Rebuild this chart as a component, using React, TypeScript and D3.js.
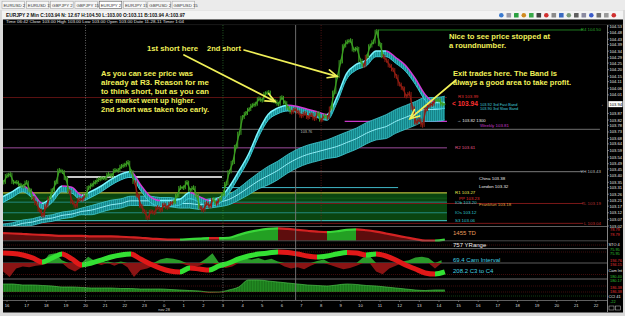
import React from "react";
import * as d3 from "d3";

const F = "'Liberation Sans', Arial, Helvetica, sans-serif";

// ---------------- data ----------------
const tabNames = ["EURUSD 2", "EURUSD 15", "GBPJPY 2", "GBPJPY 15", "EURJPY 2", "EURJPY 15", "GBPUSD 2", "GBPUSD 15"];
const activeTab = "EURJPY 2";
const titleText = "EURJPY 2 Min  C:103.94  N: 12.67  H:104.50  L:103.00  O:103.11  B:103.94  A:103.97";
const infoText = "Time 06:42   Close 103.00   High 103.00   Low 103.00   Open 103.00   Date 11-28-11   Timer 1:04";

const hourLabels = ["16", "17", "18", "19", "20", "21", "22", "23", "0", "1", "2", "3", "4", "5", "6", "7", "8", "9", "10", "11", "12", "13", "14", "15", "16", "17", "18", "19", "20", "21", "22"];
const dateLabel = "nov 28";
const dateLabelHour = 8;
const priceTickLabels = ["104.53", "104.48", "104.43", "104.39", "104.34", "104.29", "104.25", "104.20", "104.15", "104.11", "104.06", "104.01", "103.96", "103.92", "103.87", "103.82", "103.78", "103.73", "103.68", "103.64", "103.59", "103.54", "103.49", "103.45", "103.40", "103.35", "103.31", "103.26", "103.21", "103.17", "103.12", "103.07", "103.02"];
const lastPrice = 103.94;
const cursorHour = 14.7;
const sessionHours = [4, 11];
const londonHour = 16;
const nowHour = 22.41;

// closes every 10 minutes, starting 15:50
const closesStart = -1 / 6;
const closesStep = 1 / 6;
const closes = [
  103.35, 103.40, 103.41, 103.35, 103.35, 103.33, 103.32, 103.35, 103.29, 103.23,
  103.19, 103.14, 103.10, 103.17, 103.23, 103.29, 103.35, 103.44, 103.43, 103.38,
  103.28, 103.20, 103.17, 103.22, 103.22, 103.25, 103.31, 103.33, 103.35, 103.37,
  103.38, 103.38, 103.41, 103.40, 103.44, 103.44, 103.47, 103.48, 103.50, 103.43,
  103.35, 103.25, 103.17, 103.13, 103.08, 103.13, 103.12, 103.16, 103.14, 103.18,
  103.16, 103.19, 103.20, 103.25, 103.31, 103.31, 103.35, 103.29, 103.31, 103.25,
  103.16, 103.14, 103.19, 103.17, 103.22, 103.19, 103.22, 103.26, 103.34, 103.43,
  103.50, 103.62, 103.72, 103.84, 103.87, 103.90, 103.93, 103.94, 103.98, 103.97,
  104.02, 104.03, 103.97, 103.96, 103.94, 103.99, 103.95, 103.91, 103.88, 103.90,
  103.88, 103.85, 103.87, 103.84, 103.86, 103.83, 103.87, 103.82, 103.85, 103.84,
  103.91, 104.03, 104.15, 104.26, 104.38, 104.41, 104.42, 104.35, 104.36, 104.27,
  104.23, 104.30, 104.38, 104.41, 104.49, 104.39, 104.30, 104.27, 104.23, 104.20,
  104.15, 104.09, 104.06, 104.00, 104.02, 103.91, 103.80, 103.82, 103.78, 103.90,
  103.93, 103.94, 103.97, 103.97, 103.94, 103.94,
];

// bands / indicators every 30 minutes
const bandStart = -0.2;
const bandStep = 0.5;
const fastBand = [103.22, 103.26, 103.30, 103.25, 103.17, 103.22, 103.30, 103.29, 103.23, 103.26, 103.30, 103.35, 103.39, 103.41, 103.31, 103.22, 103.19, 103.19, 103.20, 103.25, 103.22, 103.19, 103.21, 103.29, 103.41, 103.54, 103.71, 103.84, 103.89, 103.91, 103.90, 103.88, 103.86, 103.84, 103.97, 104.15, 104.22, 104.25, 104.32, 104.32, 104.27, 104.21, 104.11, 103.99, 103.93, 103.93];
const slowBandMid = [103.01, 103.02, 103.04, 103.05, 103.07, 103.08, 103.10, 103.11, 103.13, 103.14, 103.16, 103.18, 103.19, 103.21, 103.21, 103.21, 103.20, 103.20, 103.19, 103.19, 103.18, 103.19, 103.20, 103.22, 103.26, 103.31, 103.36, 103.40, 103.44, 103.49, 103.53, 103.56, 103.58, 103.60, 103.62, 103.65, 103.68, 103.72, 103.75, 103.77, 103.81, 103.84, 103.87, 103.90, 103.90, 103.91];
const slowBandHalf = [0.025, 0.025, 0.025, 0.025, 0.025, 0.025, 0.025, 0.025, 0.025, 0.035, 0.035, 0.035, 0.035, 0.035, 0.035, 0.035, 0.035, 0.035, 0.035, 0.035, 0.035, 0.035, 0.035, 0.04, 0.045, 0.055, 0.06, 0.07, 0.07, 0.07, 0.07, 0.07, 0.07, 0.07, 0.08, 0.08, 0.08, 0.08, 0.08, 0.09, 0.09, 0.09, 0.09, 0.09, 0.09, 0.09];
const tdValues = [57, 54, 50, 46, 43, 39, 36, 36, 36, 32, 32, 32, 29, 25, 21, 14, 11, 7, 7, 11, 14, 18, 18, 21, 43, 64, 79, 89, 93, 89, 82, 75, 68, 64, 71, 82, 86, 79, 68, 54, 39, 25, 11, 0, 0, 7];
const camValues = [71, 68, 57, 36, 7, 36, 64, 29, -14, 0, 21, 43, 57, 64, 29, -7, -36, -57, -64, -36, -43, -50, -21, 0, 29, 50, 64, 71, 79, 75, 64, 50, 43, 50, 64, 75, 71, 57, 64, 50, 21, -14, -43, -71, -79, -64];
const cciValues = [160, 160, 140, 140, 130, 120, 100, 100, 90, 80, 80, 80, 70, 70, 60, 60, 60, 50, 40, 30, 20, -20, -10, 40, 100, 240, 240, 220, 200, 180, 160, 140, 130, 120, 140, 160, 150, 130, 120, 100, 80, 60, 40, 30, 40, 40];
const camHistStep = 1 / 3;
const camHist = [-60, -100, -40, -25, -30, -20, -15, 60, 70, 20, -40, -60, -30, 45, 15, -15, 10, -20, 10, -30, -100, -50, -40, -20, 25, 35, 30, 20, -15, -25, -20, 30, 70, -20, -35, -25, 15, 30, 25, 35, 20, 30, 10, -25, -40, -30, -45, -20, 15, 25, -15, -30, -45, -35, -20, 40, 50, -60, -80, -40, -20, 10, 20, 40, 45, 35, -40, 20];

const levelNames = ["R4", "R3", "Weekly", "M", "R2", "YH", "PH", "CL", "R1", "PP", "IOb", "TL", "IOs", "S3", "L"];
const levelValues = [104.50, 103.99, 103.81, 103.75, 103.61, 103.43, 103.39, 103.31, 103.27, 103.23, 103.20, 103.19, 103.12, 103.06, 103.04];
const sessionNames = ["China", "London", "Frankfurt"];
const sessionValues = [103.38, 103.32, 103.18];
const weeklyOpenText = "\u2192 103.82 1300";
const bandReadouts = ["103.92 3rd Fast Band", "103.90 3rd Slow Band"];
const closeMarker = "< 103.94";
const swingLowText = "103.76";
const swingLowHour = 14.95;
const swingLowPrice = 103.74;

const tdLabel = "1455 TD";
const yRangeLabel = "757 YRange";
const camLabel = "69.4  Cam Interval";
const c3c4Label = "208.2  C3 to C4";
const sideTexts = ["78.79", "78.79", "STO  4", "75.95", "75.95", "194.76", "194.15", "Cam Int", "180.40", "180.17", "186.38", "186.38", "CCI  41", "-22"];
const sideKinds = ["r", "r", "w", "g", "g", "r", "r", "w", "g", "g", "r", "r", "w", "g"];

const noteLeft = ["As you can see price was", "already at R3. Reason for me", "to think short, but as you can", "see market went up higher.", "2nd short was taken too early."];
const noteRound = ["Nice to see price stopped at", "a roundnumber."];
const noteExit = ["Exit trades here. The Band is", "always a good area to take profit."];
const note1 = "1st short here";
const note2 = "2nd short";
const arrowTargetHours = [13.65, 16.81, 20.53];
const arrowTargetPrices = [103.96, 104.15, 103.83];

// ---------------- styles ----------------
const GREEN = "#3b9c22";
const RED = "#8e1c12";
const YEL = "#f0f058";

type Look = { stroke: string; from: number; to: number; w: number; label: string | null; lc?: string };
const LOOK: Record<string, Look> = {
  R4: { stroke: "#1f7a1f", from: 18.9, to: 29.35, w: 1, label: "right", lc: "#2aa02a" },
  R3: { stroke: "#5c1212", from: -0.3, to: nowHour, w: 1, label: "mid", lc: "#e03030" },
  Weekly: { stroke: "#c838c8", from: 17.2, to: nowHour, w: 1.2, label: "weekly", lc: "#c838c8" },
  M: { stroke: "#8a8a8a", from: -0.3, to: 30.2, w: 0.8, label: null },
  R2: { stroke: "#9c4c9c", from: -0.3, to: nowHour, w: 1, label: "mid", lc: "#e05a8a" },
  YH: { stroke: "#9a9a9a", from: -0.3, to: 29.35, w: 0.8, label: "right", lc: "#bbbbbb" },
  PH: { stroke: "#c8c8c8", from: 3.06, to: 10.95, w: 1.8, label: null },
  CL: { stroke: "#3fb8c8", from: 10.95, to: 19.92, w: 1, label: null },
  R1: { stroke: "#e0e048", from: -0.3, to: nowHour, w: 1, label: "mid", lc: "#e8e850" },
  PP: { stroke: "#14601c", from: -0.3, to: nowHour, w: 0.8, label: "mid3", lc: "#e03030" },
  IOb: { stroke: "#2a9a9a", from: -0.3, to: nowHour, w: 0.8, label: "mid", lc: "#30c8d0" },
  TL: { stroke: "#7a1818", from: 10.95, to: 29.35, w: 1, label: "right", lc: "#b03030" },
  IOs: { stroke: "#2a9a9a", from: -0.3, to: nowHour, w: 0.8, label: "mid", lc: "#30c8d0" },
  S3: { stroke: "#48d0d0", from: -0.3, to: nowHour, w: 1, label: "mid", lc: "#30c8d0" },
  L: { stroke: "#7a1818", from: -0.3, to: 29.35, w: 1, label: "right", lc: "#c03030" },
};

function SegGrad({ id, xs, colors }: { id: string; xs: number[]; colors: string[] }) {
  const x0 = xs[0];
  const span = xs[xs.length - 1] - x0;
  const stops: any[] = [];
  for (let i = 0; i < xs.length - 1; i++) {
    stops.push(<stop key={i + "a"} offset={(xs[i] - x0) / span} stopColor={colors[i]} />);
    stops.push(<stop key={i + "b"} offset={(xs[i + 1] - x0) / span} stopColor={colors[i]} />);
  }
  return (
    <linearGradient id={id} gradientUnits="userSpaceOnUse" x1={x0} y1={0} x2={xs[xs.length - 1]} y2={0}>
      {stops}
    </linearGradient>
  );
}

function Arrow({ x1, y1, x2, y2 }: { x1: number; y1: number; x2: number; y2: number }) {
  const a = Math.atan2(y2 - y1, x2 - x1);
  const L = 10;
  const w1 = [x2 - L * Math.cos(a - 0.42), y2 - L * Math.sin(a - 0.42)];
  const w2 = [x2 - L * Math.cos(a + 0.42), y2 - L * Math.sin(a + 0.42)];
  return (
    <g stroke={YEL} strokeWidth={1.7} strokeLinecap="round" fill="none">
      <line x1={x1} y1={y1} x2={x2} y2={y2} />
      <polyline points={`${w1[0]},${w1[1]} ${x2},${y2} ${w2[0]},${w2[1]}`} />
    </g>
  );
}

export default function App() {
  const x = d3.scaleLinear().domain([0, 30]).range([7, 596]);
  const y = d3.scaleLinear().domain([103.02, 104.53]).range([226, 26]);
  const tdY = d3.scaleLinear().domain([0, 100]).range([240.5, 227.5]);
  const camY = d3.scaleLinear().domain([-100, 100]).range([277, 249]);
  const cciY = d3.scaleLinear().domain([0, 250]).range([292, 279.5]);

  const closeH = closes.map((_, i) => closesStart + i * closesStep);
  const bandH = fastBand.map((_, i) => bandStart + i * bandStep);
  const histH = camHist.map((_, i) => bandStart + i * camHistStep);
  const fastAt = d3.scaleLinear().domain(bandH).range(fastBand).clamp(true);
  const bx = bandH.map((h) => x(h));

  const mono = d3.curveMonotoneX;
  const slowArea = d3.area<number>().x((_, i) => bx[i]).y0((m, i) => y(m - slowBandHalf[i])).y1((m, i) => y(m + slowBandHalf[i])).curve(mono)(slowBandMid) || "";
  const slowTop = d3.line<number>().x((_, i) => bx[i]).y((m, i) => y(m + slowBandHalf[i])).curve(mono)(slowBandMid) || "";
  const slowBot = d3.line<number>().x((_, i) => bx[i]).y((m, i) => y(m - slowBandHalf[i])).curve(mono)(slowBandMid) || "";
  const slowMid = d3.line<number>().x((_, i) => bx[i]).y((m) => y(m)).curve(mono)(slowBandMid) || "";

  const FH = 0.022;
  const fastArea = d3.area<number>().x((_, i) => bx[i]).y0((m) => y(m - FH)).y1((m) => y(m + FH)).curve(mono)(fastBand) || "";
  const fastTop = d3.line<number>().x((_, i) => bx[i]).y((m) => y(m + FH)).curve(mono)(fastBand) || "";
  const fastBot = d3.line<number>().x((_, i) => bx[i]).y((m) => y(m - FH)).curve(mono)(fastBand) || "";
  const fastColors = fastBand.slice(0, -1).map((v, i) => (fastBand[i + 1] >= v ? "#7af4ff" : "#d43ad8"));

  const tdArea = d3.area<number>().x((_, i) => bx[i]).y0(tdY(0)).y1((v) => tdY(v)).curve(mono)(tdValues) || "";
  const tdLine = d3.line<number>().x((_, i) => bx[i]).y((v) => tdY(v)).curve(mono)(tdValues) || "";
  const tdUp = tdValues.slice(0, -1).map((v, i) => tdValues[i + 1] > v);
  const camLine = d3.line<number>().x((_, i) => bx[i]).y((v) => camY(v)).curve(mono)(camValues) || "";
  const camUp = camValues.slice(0, -1).map((v, i) => camValues[i + 1] >= v);
  const hx = histH.map((h) => x(h));
  const histPos = d3.area<number>().x((_, i) => hx[i]).y0(camY(0)).y1((v) => camY(Math.max(0, v)))(camHist) || "";
  const histNeg = d3.area<number>().x((_, i) => hx[i]).y0(camY(0)).y1((v) => camY(Math.min(0, v)))(camHist) || "";
  const cciPos = d3.area<number>().x((_, i) => bx[i]).y0(cciY(0)).y1((v) => cciY(Math.max(0, v))).curve(mono)(cciValues) || "";
  const cciNeg = d3.area<number>().x((_, i) => bx[i]).y0(cciY(0)).y1((v) => cciY(Math.min(0, v))).curve(mono)(cciValues) || "";
  const cciTop = d3.line<number>().x((_, i) => bx[i]).y((v) => cciY(Math.max(0, v))).curve(mono)(cciValues) || "";

  // price marks
  const priceMarks: any[] = [];
  for (let i = 0; i < closes.length - 1; i++) {
    const x1 = x(closeH[i]), x2 = x(closeH[i + 1]);
    const y1 = y(closes[i]), y2 = y(closes[i + 1]);
    const col = closes[i] >= fastAt(closeH[i]) ? GREEN : RED;
    const xm = (x1 + x2) / 2;
    priceMarks.push(<line key={"s" + i} x1={x1} y1={y1} x2={x2} y2={y2} stroke={col} strokeWidth={1.3} />);
    priceMarks.push(<line key={"t" + i} x1={x1} y1={y1 - 2.3} x2={x1} y2={y1 + 2.3} stroke={col} strokeWidth={1.1} />);
    priceMarks.push(<line key={"m" + i} x1={xm} y1={Math.min(y1, y2) - 1.6} x2={xm} y2={Math.max(y1, y2) + 1.6} stroke={col} strokeWidth={1} />);
  }

  const yLast = y(lastPrice);
  const x0 = x(-0.2);
  const xNow = x(nowHour);
  const lv = (n: string) => levelValues[levelNames.indexOf(n)];

  const sideY = [231, 235.5, 246, 251, 255, 262, 266, 271.5, 278, 282, 288.5, 292.5, 298, 303];
  const sideCol: Record<string, string> = { r: "#e03030", g: "#30c030", w: "#e8e8e8" };

  const iconColors = ["#3a7ad0", "#9a9aa8", "#2aa040", "#d08a20", "#38a848", "#404040", "#d03030", "#8a8a8a", "#3a6ac0", "#7a9a7a", "#606060", "#8a8aa0", "#3a5ac8", "#707070", "#9a9a9a", "#d03030"];

  return (
    <svg width={625} height={316} viewBox="0 0 625 316" style={{ position: "absolute", left: 0, top: 0, fontFamily: F }}>
      <defs>
        <pattern id="hatchSlow" width="2" height="4" patternUnits="userSpaceOnUse">
          <rect width="2" height="4" fill="#23a3a8" />
          <rect width="0.7" height="4" fill="#10757a" />
        </pattern>
        <pattern id="hatchFast" width="2" height="4" patternUnits="userSpaceOnUse">
          <rect width="2" height="4" fill="#2cb4ba" />
          <rect width="0.7" height="4" fill="#147f86" />
        </pattern>
        <pattern id="hatchGreen" width="1.6" height="4" patternUnits="userSpaceOnUse">
          <rect width="1.6" height="4" fill="#238e23" />
          <rect width="0.6" height="4" fill="#166a16" />
        </pattern>
        <SegGrad id="fastGrad" xs={bx} colors={fastColors} />
        <SegGrad id="tdFill" xs={bx} colors={tdUp.map((u) => (u ? "#23a023" : "#5e0d0d"))} />
        <SegGrad id="tdLine" xs={bx} colors={tdUp.map((u) => (u ? "#39d839" : "#d42222"))} />
        <SegGrad id="camLine" xs={bx} colors={camUp.map((u) => (u ? "#33e033" : "#e01818"))} />
        <clipPath id="mainClip">
          <rect x={3} y={24.5} width={604} height={202} />
        </clipPath>
      </defs>

      {/* window chrome */}
      <rect x={0} y={0} width={625} height={316} fill="#d9d9d9" />
      <rect x={0} y={0} width={625} height={10} fill="#ebebeb" />
      {tabNames.map((t, i) => (
        <g key={t + i}>
          <rect x={2 + i * 24.3} y={1.2} width={22.6} height={7.4} fill={t === activeTab ? "#ffffff" : "#f7f7f7"} stroke={t === activeTab ? "#555" : "#a8a8a8"} strokeWidth={0.6} />
          <text x={3.5 + i * 24.3} y={6.6} fontSize={4.3} fill="#333">{t}</text>
        </g>
      ))}
      <rect x={2} y={10.5} width={621} height={9} fill="#f3f3f3" />
      <text x={6} y={16.8} fontSize={4.7} fontWeight="bold" fill="#111" textLength={179} lengthAdjust="spacingAndGlyphs">{titleText}</text>
      {iconColors.map((c, i) => (
        <rect key={"ic" + i} x={499 + i * 7.5} y={13} width={4.6} height={4.6} fill={c} rx={i % 3 === 0 ? 2.3 : 0.5} />
      ))}

      {/* black chart body */}
      <rect x={3} y={19.5} width={620} height={293} fill="#000" />
      <text x={6} y={23.3} fontSize={3.6} fill="#e0e0e0" textLength={178} lengthAdjust="spacingAndGlyphs">{infoText}</text>
      <line x1={3} x2={623} y1={24.6} y2={24.6} stroke="#333" strokeWidth={0.5} />

      <g clipPath="url(#mainClip)">
        {/* green pivot zone */}
        <rect x={x0} y={y(lv("R1"))} width={xNow - x0} height={y(lv("S3")) - y(lv("R1"))} fill="#0a4510" />
        {/* horizontal levels */}
        {levelNames.map((n, i) => {
          const st = LOOK[n];
          const yy = y(levelValues[i]);
          return <line key={"lv" + n} x1={x(st.from)} x2={x(st.to)} y1={yy} y2={yy} stroke={st.stroke} strokeWidth={st.w} />;
        })}
        <line x1={x(18.9)} x2={x(18.9)} y1={y(lv("R4"))} y2={y(lv("R4")) + 8} stroke="#1f7a1f" strokeWidth={1} />
        {/* verticals */}
        <line x1={x(sessionHours[0])} x2={x(sessionHours[0])} y1={25} y2={226} stroke="#aaa" strokeWidth={0.6} strokeDasharray="1 1.5" />
        <line x1={x(sessionHours[1])} x2={x(sessionHours[1])} y1={25} y2={226} stroke="#3a9a3a" strokeWidth={0.6} strokeDasharray="1 1.5" />
        <line x1={x(londonHour)} x2={x(londonHour)} y1={25} y2={226} stroke="#8a2020" strokeWidth={0.6} strokeDasharray="1 1.5" />
        <line x1={x(cursorHour)} x2={x(cursorHour)} y1={25} y2={226} stroke="#777" strokeWidth={0.9} />

        {/* slow band */}
        <path d={slowArea} fill="url(#hatchSlow)" />
        <path d={slowTop} fill="none" stroke="#43cdd4" strokeWidth={0.8} />
        <path d={slowBot} fill="none" stroke="#43cdd4" strokeWidth={0.8} />
        <path d={slowMid} fill="none" stroke="#9ff6ff" strokeWidth={0.9} />

        {/* fast band */}
        <path d={fastArea} fill="url(#hatchFast)" />
        <path d={fastBot} fill="none" stroke="#3fd0dc" strokeWidth={0.9} />
        <path d={fastTop} fill="none" stroke="url(#fastGrad)" strokeWidth={1.5} />

        {/* price */}
        {priceMarks}
      </g>

      {/* level labels */}
      {levelNames.map((n, i) => {
        const st = LOOK[n];
        if (!st.label) return null;
        const yy = y(levelValues[i]);
        const txt = `${n} ${levelValues[i].toFixed(2)}`;
        if (st.label === "right") return <text key={"ll" + n} x={601} y={yy + 1.5} fontSize={4.4} fill={st.lc} textAnchor="end">{txt}</text>;
        if (st.label === "weekly") return <text key={"ll" + n} x={480} y={yy + 5.6} fontSize={4.4} fill={st.lc}>{txt}</text>;
        if (st.label === "mid3") return <text key={"ll" + n} x={459} y={yy + 1.5} fontSize={4.4} fill={st.lc}>{txt}</text>;
        if (n === "R3") return <text key={"ll" + n} x={458} y={yy} fontSize={4.4} fill={st.lc}>{txt}</text>;
        return <text key={"ll" + n} x={455} y={yy + 1.5} fontSize={4.4} fill={st.lc}>{txt}</text>;
      })}
      <text x={457} y={y(lv("Weekly")) + 0.6} fontSize={4.2} fill="#e8e8e8">{weeklyOpenText}</text>
      {sessionNames.map((s, i) => (
        <text key={s} x={479} y={y(sessionValues[i]) + 1.5} fontSize={4.4} fill={s === "Frankfurt" ? "#e0a040" : "#e8e8e8"}>{`${s} ${sessionValues[i].toFixed(2)}`}</text>
      ))}
      <text x={452} y={yLast + 2.2} fontSize={6.6} fontWeight="bold" fill="#ff3030">{closeMarker}</text>
      <text x={480} y={yLast + 1.5} fontSize={3.9} fill="#40c8d8">{bandReadouts[0]}</text>
      <text x={480} y={yLast + 5.5} fontSize={3.9} fill="#40c8d8">{bandReadouts[1]}</text>
      <text x={x(swingLowHour)} y={y(swingLowPrice) + 2} fontSize={3.8} fill="#bbb">{swingLowText}</text>

      {/* right price axis */}
      <line x1={607.5} x2={607.5} y1={25} y2={312} stroke="#bdbdbd" strokeWidth={0.7} />
      {priceTickLabels.map((t) => {
        const yy = y(+t);
        if (Math.abs(yy - yLast) < 4.5) return null;
        return (
          <g key={"pt" + t}>
            <line x1={607.5} x2={609} y1={yy} y2={yy} stroke="#ccc" strokeWidth={0.5} />
            <text x={609.5} y={yy + 1.5} fontSize={4.1} fill="#e6e6e6">{t}</text>
          </g>
        );
      })}
      <rect x={608.5} y={yLast - 3} width={14} height={6} fill="#fff" />
      <text x={609.5} y={yLast + 1.6} fontSize={4.1} fill="#000">{lastPrice.toFixed(2)}</text>
      <text x={601} y={yLast + 1.6} fontSize={4.5} fill="#fff">{"\u2190"}</text>

      {/* lower panels */}
      <line x1={3} x2={607} y1={226.5} y2={226.5} stroke="#8a8a8a" strokeWidth={0.7} />
      <path d={tdArea} fill="url(#tdFill)" />
      <path d={tdLine} fill="none" stroke="url(#tdLine)" strokeWidth={2.2} />
      <line x1={3} x2={607} y1={240.8} y2={240.8} stroke="#777" strokeWidth={0.6} />
      <line x1={3} x2={607} y1={245} y2={245} stroke="#6a1414" strokeWidth={0.6} strokeDasharray="1 1" />
      <line x1={3} x2={607} y1={248.6} y2={248.6} stroke="#bbb" strokeWidth={0.6} />
      <line x1={3} x2={607} y1={252} y2={252} stroke="#6a1414" strokeWidth={0.6} strokeDasharray="1 1" />
      <line x1={3} x2={607} y1={camY(0)} y2={camY(0)} stroke="#9a9a9a" strokeWidth={0.6} />
      <line x1={3} x2={607} y1={274.5} y2={274.5} stroke="#6a1414" strokeWidth={0.6} strokeDasharray="1 1" />
      <path d={histPos} fill="#2a9a2a" />
      <path d={histNeg} fill="#8a1414" />
      <path d={camLine} fill="none" stroke="url(#camLine)" strokeWidth={5} />
      <line x1={3} x2={607} y1={279} y2={279} stroke="#bbb" strokeWidth={0.6} />
      <line x1={3} x2={607} y1={286} y2={286} stroke="#6a1414" strokeWidth={0.6} strokeDasharray="1 1" />
      <line x1={3} x2={607} y1={296} y2={296} stroke="#1e6a1e" strokeWidth={0.6} strokeDasharray="1 1" />
      <path d={cciPos} fill="url(#hatchGreen)" />
      <path d={cciNeg} fill="#8a1414" />
      <path d={cciTop} fill="none" stroke="#4cc04c" strokeWidth={0.7} />
      <line x1={3} x2={607} y1={cciY(0)} y2={cciY(0)} stroke="#6a1414" strokeWidth={0.6} strokeDasharray="1 1" />
      <line x1={3} x2={607} y1={300.5} y2={300.5} stroke="#8a8a8a" strokeWidth={0.7} />
      {/* lower verticals */}
      <line x1={x(sessionHours[0])} x2={x(sessionHours[0])} y1={227} y2={300} stroke="#aaa" strokeWidth={0.6} strokeDasharray="1 1.5" />
      <line x1={x(sessionHours[1])} x2={x(sessionHours[1])} y1={227} y2={300} stroke="#aaa" strokeWidth={0.6} strokeDasharray="1 1.5" />
      <line x1={x(cursorHour)} x2={x(cursorHour)} y1={227} y2={300} stroke="#777" strokeWidth={0.9} />

      <text x={453} y={235} fontSize={6} fill="#e89a5a">{tdLabel}</text>
      <text x={453} y={247} fontSize={6} fill="#f0f0f0">{yRangeLabel}</text>
      <text x={453} y={262} fontSize={6} fill="#44d0e0">{camLabel}</text>
      <text x={453} y={273} fontSize={6} fill="#44d0e0">{c3c4Label}</text>

      {sideTexts.map((t, i) => (
        <text key={"sd" + i} x={sideKinds[i] === "w" ? 608.5 : 610} y={sideY[i]} fontSize={3.9} fill={sideCol[sideKinds[i]]}>{t}</text>
      ))}

      {/* x axis */}
      {hourLabels.map((t, i) => (
        <g key={"hx" + i}>
          <line x1={x(i)} x2={x(i)} y1={300.5} y2={302} stroke="#aaa" strokeWidth={0.5} />
          <text x={x(i)} y={306.6} fontSize={4.2} fill="#dcdcdc" textAnchor="middle">{t}</text>
        </g>
      ))}
      <text x={x(dateLabelHour)} y={310.8} fontSize={3.9} fill="#cfcfcf" textAnchor="middle">{dateLabel}</text>
      <rect x={609} y={306} width={5} height={4} fill="none" stroke="#ccc" strokeWidth={0.5} />
      <rect x={615.5} y={306} width={5} height={4} fill="none" stroke="#ccc" strokeWidth={0.5} />

      {/* annotations */}
      <text x={147} y={50.8} fontSize={7.2} fontWeight="bold" fill={YEL} textLength={51} lengthAdjust="spacingAndGlyphs">{note1}</text>
      <text x={207} y={50.8} fontSize={7.2} fontWeight="bold" fill={YEL} textLength={34} lengthAdjust="spacingAndGlyphs">{note2}</text>
      {noteLeft.map((t, i) => (
        <text key={"nl" + i} x={101} y={75.5 + i * 9.1} fontSize={7.2} fontWeight="bold" fill={YEL} textLength={[92, 108, 108, 94, 108][i]} lengthAdjust="spacingAndGlyphs">{t}</text>
      ))}
      {noteRound.map((t, i) => (
        <text key={"nr" + i} x={449} y={38.8 + i * 9.5} fontSize={7.2} fontWeight="bold" fill={YEL} textLength={[101, 57][i]} lengthAdjust="spacingAndGlyphs">{t}</text>
      ))}
      {noteExit.map((t, i) => (
        <text key={"ne" + i} x={453} y={76 + i * 9.4} fontSize={7.2} fontWeight="bold" fill={YEL} textLength={[104, 118][i]} lengthAdjust="spacingAndGlyphs">{t}</text>
      ))}
      <Arrow x1={184} y1={55} x2={x(arrowTargetHours[0])} y2={y(arrowTargetPrices[0])} />
      <Arrow x1={244} y1={50} x2={x(arrowTargetHours[1])} y2={y(arrowTargetPrices[1])} />
      <Arrow x1={456} y1={80} x2={x(arrowTargetHours[2])} y2={y(arrowTargetPrices[2])} />
    </svg>
  );
}
